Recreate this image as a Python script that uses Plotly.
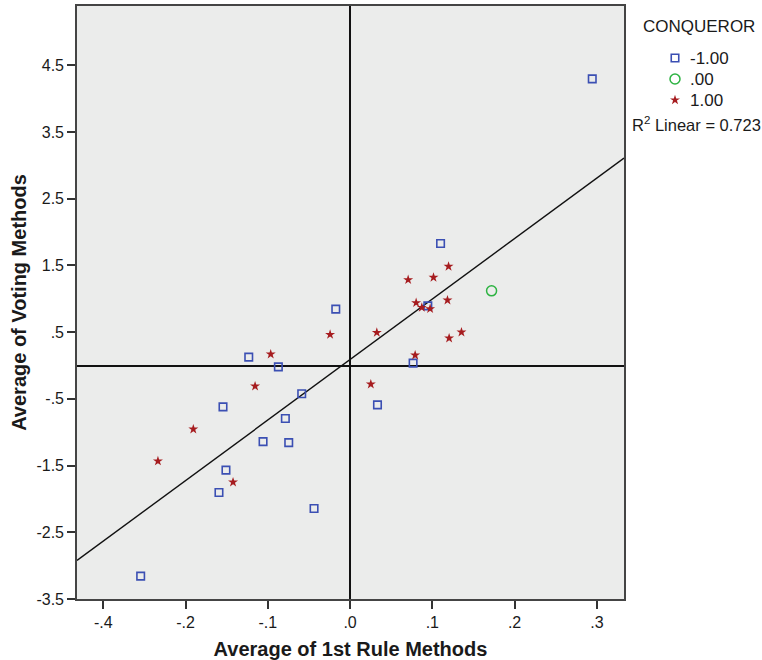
import numpy as np
import plotly.graph_objects as go

# Average of 1st Rule Methods (x) and Average of Voting Methods (y), by CONQUEROR group
loser_x = [0.110, -0.0174, 0.0945, 0.0766, -0.1232, -0.0872, -0.0588, -0.1545, -0.0787,
           -0.1058, -0.0746, 0.0333, -0.1509, -0.1594, -0.0438, -0.2546, 0.2944]
loser_y = [1.83, 0.846, 0.895, 0.036, 0.126, -0.02, -0.424, -0.62, -0.795,
           -1.14, -1.155, -0.59, -1.568, -1.904, -2.144, -3.157, 4.298]

tie_x = [0.172]
tie_y = [1.12]

winner_x = [0.1197, 0.0706, 0.1014, 0.0803, 0.0872, 0.0973, 0.1184, 0.1354, 0.1204,
            0.0325, -0.0243, 0.0791, -0.0965, -0.1155, -0.1906, -0.2336, -0.1423, 0.0252]
winner_y = [1.485, 1.285, 1.32, 0.94, 0.87, 0.85, 0.98, 0.50, 0.41,
            0.495, 0.465, 0.156, 0.171, -0.309, -0.954, -1.433, -1.748, -0.279]

group_labels = ["-1.00", ".00", "1.00"]
legend_title = "CONQUEROR"
r2_label = "0.723"

x_tickvals = [-0.3, -0.2, -0.1, 0.0, 0.1, 0.2, 0.3]
x_ticktext = ["-.4", "-.2", "-.1", ".0", ".1", ".2", ".3"]
y_tickvals = [-3.5, -2.5, -1.5, -0.5, 0.5, 1.5, 2.5, 3.5, 4.5]
y_ticktext = ["-3.5", "-2.5", "-1.5", "-.5", ".5", "1.5", "2.5", "3.5", "4.5"]

x_range = [-0.332, 0.333]
y_range = [-3.5, 5.39]

FONT = "Arial, Liberation Sans, sans-serif"
TEXT = "#1a1a1a"

W, H = 762, 660
M_L, M_T, M_B = 77, 6, 61
PLOT_RIGHT = 624                      # right edge of the data panel, px
inner_w = W - M_L
main_dom = (PLOT_RIGHT - M_L) / inner_w

# Marker styles per group
styles = [
    dict(symbol="square-open", size=7.5, color="#3b4fb3", line=dict(width=1.6)),
    dict(symbol="circle-open", size=10, color="#2db342", line=dict(width=1.5)),
    dict(symbol="star", size=7.5, color="#a61c1f", line=dict(width=0)),
]

# Least-squares fit over all cases
all_x = np.array(loser_x + tie_x + winner_x)
all_y = np.array(loser_y + tie_y + winner_y)
slope, intercept = np.polyfit(all_x, all_y, 1)
fit_x = np.array(x_range)
fit_y = intercept + slope * fit_x

fig = go.Figure()

fig.add_trace(go.Scatter(
    x=fit_x, y=fit_y, mode="lines", showlegend=False, hoverinfo="skip",
    line=dict(color="#111111", width=1.4),
))
for gx, gy, name, st in zip([loser_x, tie_x, winner_x], [loser_y, tie_y, winner_y],
                            group_labels, styles):
    fig.add_trace(go.Scatter(x=gx, y=gy, mode="markers", name=name,
                             showlegend=False, marker=st))

# Key panel to the right of the chart: its axes are measured in page pixels
key_marker_x = 675
key_text_x = 688
key_rows = [58, 79, 100]
for st, ry in zip(styles, key_rows):
    fig.add_trace(go.Scatter(
        x=[key_marker_x], y=[ry], mode="markers", xaxis="x2", yaxis="y2",
        showlegend=False, hoverinfo="skip", marker=st,
    ))

annotations = [dict(
    text=legend_title, xref="x2", yref="y2", x=698.5, y=26,
    xanchor="center", yanchor="middle", showarrow=False,
    font=dict(size=17, family=FONT, color=TEXT),
)]
for label, ry in zip(group_labels, key_rows):
    annotations.append(dict(
        text=label, xref="x2", yref="y2", x=key_text_x, y=ry,
        xanchor="left", yanchor="middle", showarrow=False,
        font=dict(size=17, family=FONT, color=TEXT),
    ))
annotations.append(dict(
    text="R<sup>2</sup> Linear = " + r2_label, xref="x2", yref="y2", x=630, y=124,
    xanchor="left", yanchor="middle", showarrow=False,
    font=dict(size=16.5, family=FONT, color=TEXT),
))

axis_common = dict(
    showgrid=False, zeroline=True, zerolinecolor="#111111", zerolinewidth=1.8,
    showline=True, mirror=True, linecolor="#444444", linewidth=1.6,
    ticks="outside", ticklen=8, tickwidth=1.5, tickcolor="#333333",
    tickfont=dict(size=16, family=FONT, color=TEXT),
)

fig.update_layout(
    width=W, height=H,
    margin=dict(l=M_L, r=0, t=M_T, b=M_B),
    paper_bgcolor="white",
    plot_bgcolor="white",
    font=dict(family=FONT, size=16, color=TEXT),
    showlegend=False,
    annotations=annotations,
    shapes=[dict(
        type="rect", xref="x domain", yref="y domain", x0=0, x1=1, y0=0, y1=1,
        fillcolor="#ebeceb", line=dict(width=0), layer="below",
    )],
    xaxis=dict(
        domain=[0, main_dom], anchor="y",
        range=x_range, tickvals=x_tickvals, ticktext=x_ticktext,
        title=dict(text="<b>Average of 1st Rule Methods</b>",
                   font=dict(size=20, family=FONT, color=TEXT), standoff=12),
        **axis_common,
    ),
    yaxis=dict(
        domain=[0, 1], anchor="x",
        range=y_range, tickvals=y_tickvals, ticktext=y_ticktext,
        title=dict(text="<b>Average of Voting Methods</b>",
                   font=dict(size=20, family=FONT, color=TEXT), standoff=4),
        **axis_common,
    ),
    xaxis2=dict(domain=[main_dom, 1], range=[PLOT_RIGHT, W], anchor="y2", visible=False),
    yaxis2=dict(domain=[0, 1], range=[H - M_B, M_T], anchor="x2", visible=False),
)

fig.write_html("out.html")
